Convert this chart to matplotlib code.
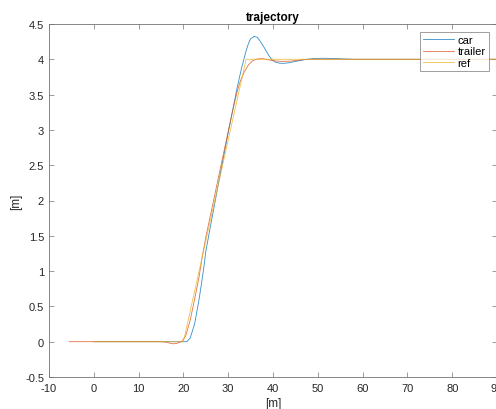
import matplotlib
matplotlib.use("Agg")
import matplotlib.pyplot as plt

plt.rcParams['font.family'] = ['Liberation Sans', 'DejaVu Sans']
plt.rcParams['axes.unicode_minus'] = False

# reference path
ref_x = [0, 20, 34, 90]
ref_y = [0, 0, 4, 4]

# car path
car_x = [0, 20, 20.75, 21.5, 22.5, 23.5, 24.5, 25, 26, 27, 28, 29, 30, 31, 32, 33,
         33.5, 34, 34.5, 35, 35.8, 36.5, 37, 38, 39, 39.7, 40.5, 41.5, 42.3, 43.5,
         45, 47, 49, 51, 54, 58, 90]
car_y = [0, 0, 0.0, 0.05, 0.25, 0.6, 1.02, 1.28, 1.62, 1.96, 2.3, 2.63, 2.96, 3.28,
         3.6, 3.88, 4.0, 4.12, 4.22, 4.29, 4.325, 4.31, 4.27, 4.17, 4.06, 4.0, 3.96,
         3.945, 3.943, 3.95, 3.97, 3.995, 4.01, 4.015, 4.01, 4.0, 4.0]

# trailer path
trl_x = [-5.5, 15, 16, 17, 17.7, 18.5, 19, 19.6, 20.5, 21.5, 22.5, 23.5, 24.2, 25,
         26, 27, 28, 29, 30, 31, 31.5, 32, 32.65, 33.5, 34.5, 35.5, 36.4, 37.5, 38.5,
         40, 42, 44, 46, 48, 90]
trl_y = [0, 0, -0.005, -0.02, -0.03, -0.025, -0.01, 0.0, 0.08, 0.3, 0.6, 0.92, 1.2,
         1.48, 1.78, 2.08, 2.38, 2.68, 2.98, 3.27, 3.41, 3.54, 3.68, 3.81, 3.92, 3.98,
         4.004, 4.01, 4.0, 3.98, 3.97, 3.975, 3.99, 4.0, 4.0]

xticks = list(range(-10, 100, 10))
yticks = [-0.5, 0, 0.5, 1, 1.5, 2, 2.5, 3, 3.5, 4, 4.5]

fig = plt.figure(figsize=(4.96, 4.10), dpi=100)
ax = fig.add_axes([49/496, 32/410, 448/496, 353/410])

ax.plot(car_x, car_y, color=(0, 0.447, 0.741), lw=0.6, alpha=0.8, label='car')
ax.plot(trl_x, trl_y, color=(0.85, 0.325, 0.098), lw=0.6, alpha=0.8, label='trailer')
ax.plot(ref_x, ref_y, color=(0.929, 0.694, 0.125), lw=0.6, alpha=0.8, label='ref')

ax.set_xlim(-10, 90)
ax.set_ylim(-0.5, 4.5)
ax.set_xticks(xticks)
ax.set_yticks(yticks)
ax.set_yticklabels(['-0.5', '0', '0.5', '1', '1.5', '2', '2.5', '3', '3.5', '4', '4.5'])

axcol = (0.15, 0.15, 0.15)
for s in ax.spines.values():
    s.set_color((0.45, 0.45, 0.45))
    s.set_linewidth(0.6)
ax.tick_params(direction='in', top=True, right=True, length=3.5, width=0.5,
               color=(0.45, 0.45, 0.45), labelsize=8, labelcolor=axcol)
ax.tick_params(axis='x', pad=4)
ax.tick_params(axis='y', pad=3.5)

ax.set_title('trajectory', fontsize=8.5, fontweight='bold', pad=3)
ax.set_xlabel('[m]', fontsize=8.5, color=axcol, labelpad=3)
ax.set_ylabel('[m]', fontsize=8.5, color=axcol, labelpad=2)

leg = ax.legend(loc='upper right', fontsize=8, frameon=True,
                fancybox=False, borderpad=0.3, handlelength=2.8, handletextpad=0.3,
                labelspacing=0.1, borderaxespad=0)
leg.set_bbox_to_anchor((489/496, 1 - 33/410), transform=fig.transFigure)
leg.get_frame().set_edgecolor((0.45, 0.45, 0.45))
leg.get_frame().set_linewidth(0.6)

fig.savefig('out.png', dpi=100)
